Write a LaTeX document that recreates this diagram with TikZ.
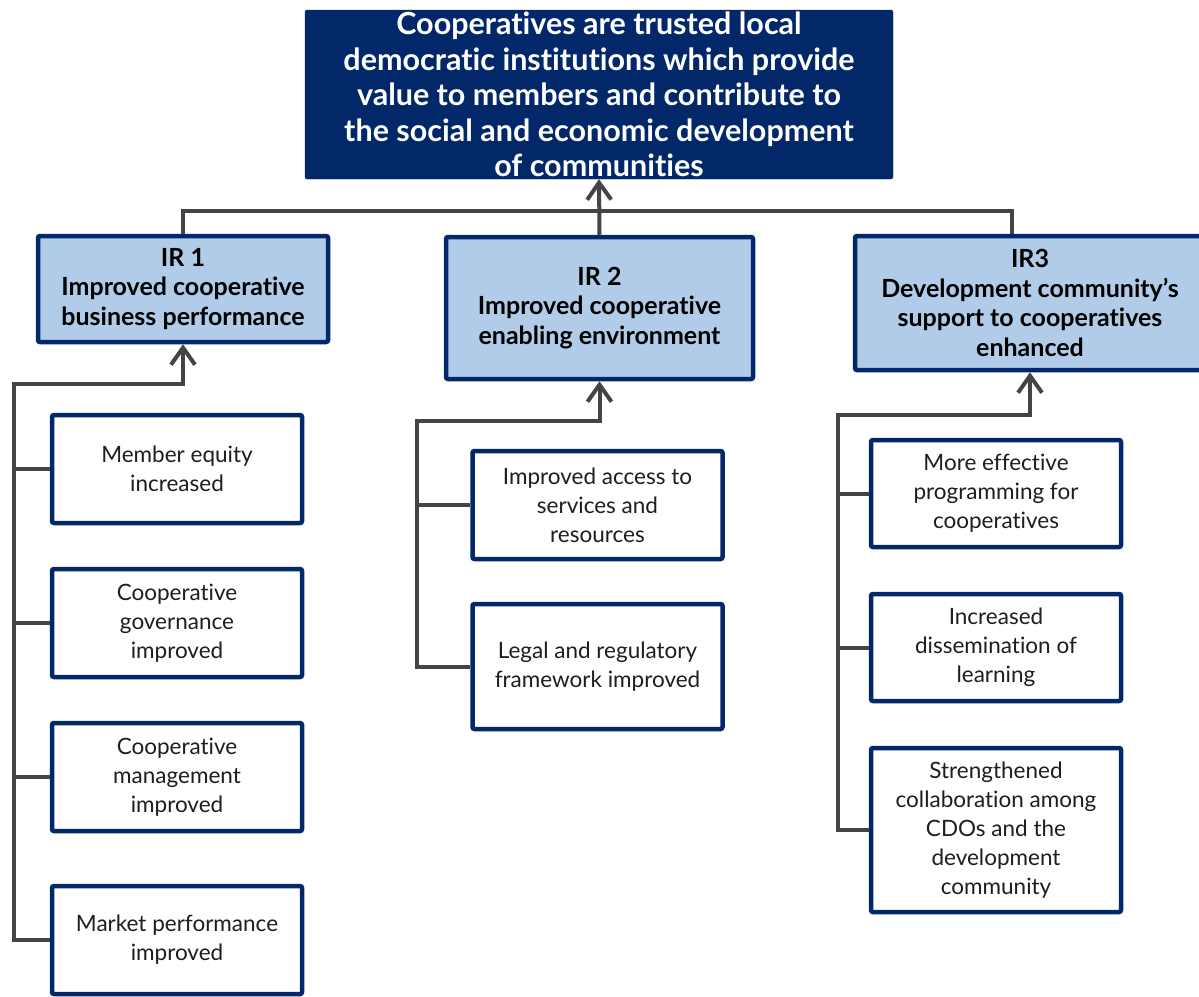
\documentclass[tikz,border=0pt]{standalone}
\usepackage{fontspec}
\setmainfont{Lato}[Ligatures=NoCommon]
\usepackage{tikz}
\usetikzlibrary{shapes, arrows.meta, positioning}
\definecolor{navy}{RGB}{2,40,105}
\definecolor{paleblue}{RGB}{176,204,232}
\definecolor{linegray}{RGB}{68,68,68}
\definecolor{txtgray}{RGB}{30,30,30}
\tikzstyle{goalbox} = [rectangle, rounded corners=2pt, fill=navy, draw=navy, text=white, font=\bfseries\fontsize{30.5}{35.5}\selectfont, align=center, inner sep=0pt, minimum width=588, minimum height=169]
\tikzstyle{irbox} = [rectangle, rounded corners=2pt, fill=paleblue, draw=navy, line width=4.5pt, text=black, font=\bfseries\fontsize{25}{29.5}\selectfont, align=center, inner sep=0pt]
\tikzstyle{subbox} = [rectangle, rounded corners=2pt, fill=white, draw=navy, line width=4.5pt, text=txtgray, font=\fontsize{22.5}{29}\selectfont, align=center, inner sep=0pt, minimum width=250]
\tikzstyle{line} = [draw, linegray, line width=4pt]
\tikzstyle{arrow} = [line, -{Straight Barb[length=17pt, width=24pt]}]

\begin{document}
\begin{tikzpicture}[x=1pt, y=-1pt]
	\useasboundingbox (0,0) rectangle (1199,996);
	\fill [white] (0,0) rectangle (1199,996);
	\clip (0,0) rectangle (1199,996);

	\node [goalbox] (goal) at (599,94.5) {Cooperatives are trusted local\\democratic institutions which provide\\value to members and contribute to\\the social and economic development\\of communities};

	\node [irbox, minimum width=290, minimum height=106] (ir1) at (183,289) {IR 1\\Improved cooperative\\business performance};
	\node [irbox, minimum width=307, minimum height=142] (ir2) at (599.5,308) {IR 2\\Improved cooperative\\enabling environment};
	\node [irbox, minimum width=350, minimum height=134] (ir3) at (1030,303) {IR3\\Development community’s\\support to cooperatives\\enhanced};

	\node [subbox, minimum height=108] (m1) at (177,469) {Member equity\\increased};
	\node [subbox, minimum height=108] (m2) at (177,623) {Cooperative\\governance\\improved};
	\node [subbox, minimum height=108] (m3) at (177,777) {Cooperative\\management\\improved};
	\node [subbox, minimum height=108] (m4) at (177,940) {Market performance\\improved};

	\node [subbox, minimum height=108] (e1) at (597.5,505) {Improved access to\\services and\\resources};
	\node [subbox, minimum height=125] (e2) at (597.5,666.5) {Legal and regulatory\\framework improved};

	\node [subbox, minimum height=107] (s1) at (996,493.5) {More effective\\programming for\\cooperatives};
	\node [subbox, minimum height=107] (s2) at (996,647.5) {Increased\\dissemination of\\learning};
	\node [subbox, minimum height=164] (s3) at (996,830) {Strengthened\\collaboration among\\CDOs and the\\development\\community};

	\coordinate (b3) at (1012,211);
	\coordinate (r1) at (14,384);
	\coordinate (r2) at (417,421);
	\coordinate (r3) at (838,415);

	\path [line] (ir1.north) |- (b3) -- (b3 |- ir3.north);
	\path [arrow] (ir2.north) -- (goal.south);

	\path [arrow] (m4.west) -| (r1) -| (ir1.south);
	\foreach \n in {m1, m2, m3}
		\path [line] (\n.west) -- (\n.west -| r1);

	\path [arrow] (e2.west) -| (r2) -| (ir2.south);
	\path [line] (e1.west) -- (e1.west -| r2);

	\path [arrow] (s3.west) -| (r3) -| (ir3.south);
	\foreach \n in {s1, s2}
		\path [line] (\n.west) -- (\n.west -| r3);
\end{tikzpicture}
\end{document}
